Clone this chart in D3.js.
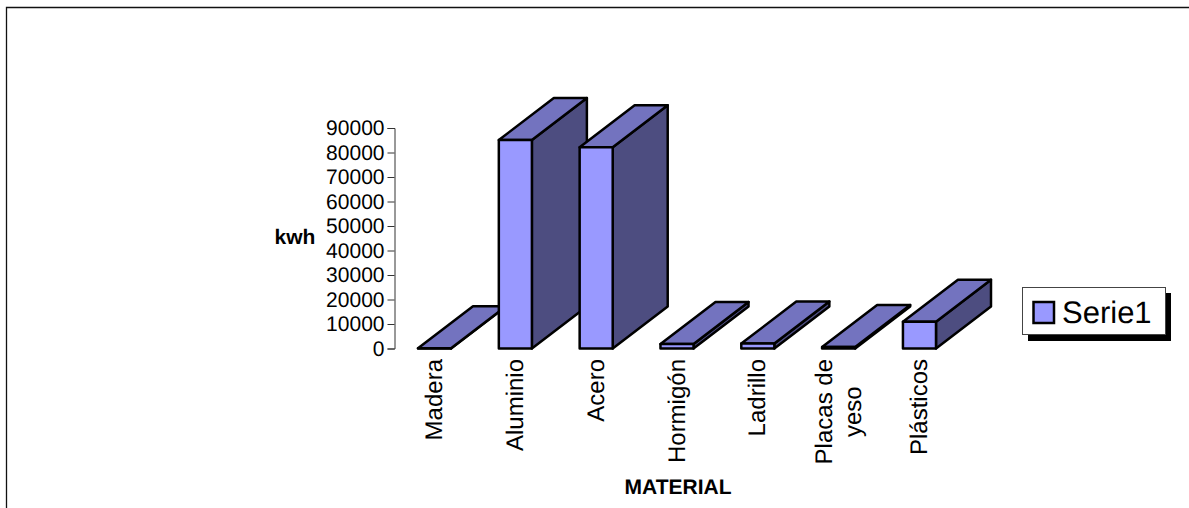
<!DOCTYPE html>
<html>
<head>
<meta charset="utf-8">
<style>
  html, body { margin: 0; padding: 0; background: #fff; }
  svg { display: block; }
  text { font-family: "Liberation Sans", Arial, sans-serif; fill: #000; text-rendering: geometricPrecision; }
</style>
<script src="https://cdn.jsdelivr.net/npm/d3@7"></script>
</head>
<body>
<svg id="chart" width="1189" height="508"></svg>
<script>
// Embodied energy per material
const categories = ["Madera", "Aluminio", "Acero", "Hormigón", "Ladrillo", "Placas de yeso", "Plásticos"];
const categoryLines = [["Madera"], ["Aluminio"], ["Acero"], ["Hormigón"], ["Ladrillo"], ["Placas de", "yeso"], ["Plásticos"]];
const values = [150, 85100, 82100, 1800, 2000, 600, 10900];
const yTicks = [0, 10000, 20000, 30000, 40000, 50000, 60000, 70000, 80000, 90000];
const seriesName = "Serie1";

const svg = d3.select("#chart");

// Outer frame: only the top and left edges fall inside the window
svg.append("path")
  .attr("d", "M6.5,508V7.5H1189")
  .attr("fill", "none")
  .attr("stroke", "#111")
  .attr("stroke-width", 1.3);

const y = d3.scaleLinear().domain([0, 90000]).range([348.5, 128]);
const x = d3.scaleBand().domain(categories).range([394, 960]).paddingInner(0.591).paddingOuter(0.297);

// Value axis
const yAxis = d3.axisLeft(y).tickValues(yTicks).tickFormat(d3.format("d")).tickSize(7).tickPadding(3);
const axisG = svg.append("g").attr("transform", "translate(394.5,0)").call(yAxis);
axisG.selectAll("path, line").attr("stroke", "#333").attr("stroke-width", 1);
axisG.selectAll("text").attr("font-size", 21).attr("fill", "#000")
  .style("font-family", '"Liberation Sans", Arial, sans-serif');

// Oblique 3D bars, painted left to right so later bars overlap earlier ones
const depthX = 55, depthY = -42;
const frontColor = "#9999FF", topColor = "#7373BF", sideColor = "#4D4D80";
const outline = { stroke: "#000", width: 2.5 };
const poly = pts => pts.map(p => p.join(",")).join(" ");

const bars = svg.append("g").selectAll("g")
  .data(categories.map((c, i) => ({ c, v: values[i] })))
  .join("g");

const faces = [
  { color: sideColor, pts: (l, r, t, b) => [[r, b], [r + depthX, b + depthY], [r + depthX, t + depthY], [r, t]] },
  { color: topColor, pts: (l, r, t, b) => [[l, t], [l + depthX, t + depthY], [r + depthX, t + depthY], [r, t]] },
  { color: frontColor, pts: (l, r, t, b) => [[l, b], [l, t], [r, t], [r, b]] }
];
faces.forEach(face => {
  bars.append("polygon")
    .attr("points", d => {
      const l = x(d.c), r = l + x.bandwidth();
      return poly(face.pts(l, r, y(d.v), y(0)));
    })
    .attr("fill", face.color)
    .attr("stroke", outline.stroke)
    .attr("stroke-width", outline.width)
    .attr("stroke-linejoin", "round");
});

// Rotated category labels; wrapped labels are centred on their longest line
const labelTop = 359, lineGap = 29, labelSize = 24;
categoryLines.forEach((lines, i) => {
  const cx = x(categories[i]) + x.bandwidth() / 2;
  const offsets = lines.map((_, j) => cx + 7.5 + (j - (lines.length - 1) / 2) * lineGap);
  const texts = lines.map(line => svg.append("text").attr("font-size", labelSize).text(line));
  const longest = d3.max(texts, t => t.node().getComputedTextLength());
  texts.forEach((t, j) => {
    t.attr("text-anchor", lines.length > 1 ? "middle" : "end")
      .attr("transform", `translate(${offsets[j]},${labelTop + (lines.length > 1 ? longest / 2 : 0)}) rotate(-90)`);
  });
});

// Axis titles
svg.append("text").attr("x", 295).attr("y", 244).attr("text-anchor", "middle")
  .attr("font-size", 21).attr("font-weight", "bold").text("kwh");
svg.append("text").attr("x", 678).attr("y", 494).attr("text-anchor", "middle")
  .attr("font-size", 21).attr("font-weight", "bold").text("MATERIAL");

// Legend with drop shadow
const legend = svg.append("g");
legend.append("rect").attr("x", 1028).attr("y", 293).attr("width", 143).attr("height", 48).attr("fill", "#000");
legend.append("rect").attr("x", 1022.5).attr("y", 287.5).attr("width", 143).attr("height", 47)
  .attr("fill", "#fff").attr("stroke", "#444").attr("stroke-width", 1);
legend.append("rect").attr("x", 1033.5).attr("y", 302).attr("width", 20.5).attr("height", 21)
  .attr("fill", frontColor).attr("stroke", "#000").attr("stroke-width", 2.5);
legend.append("text").attr("x", 1062).attr("y", 323).attr("font-size", 31).text(seriesName);
</script>
</body>
</html>
